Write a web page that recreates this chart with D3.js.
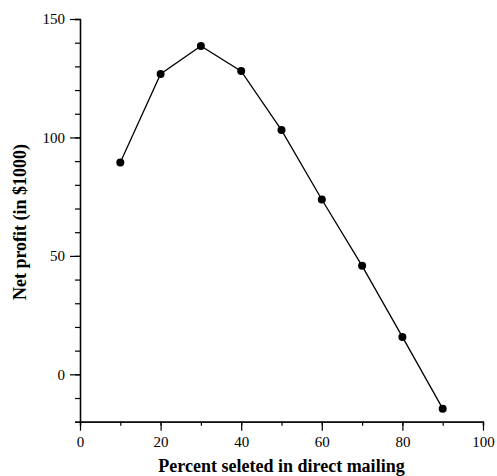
<!DOCTYPE html>
<html>
<head>
<meta charset="utf-8">
<script src="https://cdn.jsdelivr.net/npm/d3@7"></script>
<style>
  body { margin: 0; background: #fff; }
  text { font-family: "Liberation Serif", "Times New Roman", serif; }
</style>
</head>
<body>
<div id="chart"></div>
<script>
// percent selected and net profit
const percents = [10, 20, 30, 40, 50, 60, 70, 80, 90]
const profits = [89.4, 126.8, 138.6, 128, 103.1, 73.8, 45.8, 15.8, -14.5]
const xTicks = [0, 20, 40, 60, 80, 100]
const yTicks = [0, 50, 100, 150]

const w = 497
const h = 476
const m = { top: 19, right: 14, bottom: 54.3, left: 80 }

const svg = d3.select('#chart')
    .append('svg')
    .attr('width', w)
    .attr('height', h)

const x = d3.scaleLinear().domain([0, 100]).range([m.left, w - m.right])
const y = d3.scaleLinear().domain([-20, 150]).range([h - m.bottom, m.top])

// minor ticks first, no labels
svg.append('g')
    .attr('transform', `translate(0,${h - m.bottom})`)
    .call(d3.axisBottom(x).tickValues(d3.range(0, 101, 10)).tickSize(4).tickFormat(''))
svg.append('g')
    .attr('transform', `translate(${m.left},0)`)
    .call(d3.axisLeft(y).tickValues(d3.range(-20, 151, 10)).tickSize(5).tickFormat(''))

// major ticks with labels
svg.append('g')
    .attr('transform', `translate(0,${h - m.bottom})`)
    .call(d3.axisBottom(x).tickValues(xTicks).tickSize(9).tickSizeOuter(0).tickPadding(5.5))
svg.append('g')
    .attr('transform', `translate(${m.left},0)`)
    .call(d3.axisLeft(y).tickValues(yTicks).tickSize(10).tickSizeOuter(0).tickPadding(5))

svg.selectAll('g').attr('font-family', '"Liberation Serif", serif')
svg.selectAll('.domain').attr('stroke', '#000').attr('stroke-width', 1.3)
svg.selectAll('.tick line').attr('stroke', '#000').attr('stroke-width', 1.2)
svg.selectAll('.tick text')
    .attr('fill', '#000')
    .style('font-family', '"Liberation Serif", serif')
    .style('font-size', '15px')

// line + dots
const line = d3.line()
    .x((d, i) => x(percents[i]))
    .y((d) => y(d))

svg.append('path')
    .datum(profits)
    .attr('d', line)
    .attr('fill', 'none')
    .attr('stroke', '#000')
    .attr('stroke-width', 1.3)

svg.selectAll('circle')
    .data(profits)
    .enter()
    .append('circle')
    .attr('cx', (d, i) => x(percents[i]))
    .attr('cy', (d) => y(d))
    .attr('r', 4)
    .attr('fill', '#000')

// axis titles
svg.append('text')
    .attr('x', (m.left + w - m.right) / 2)
    .attr('y', 471.5)
    .attr('text-anchor', 'middle')
    .style('font-size', '18px')
    .style('font-weight', 'bold')
    .text('Percent seleted in direct mailing')

svg.append('text')
    .attr('transform', 'translate(26,222) rotate(-90)')
    .attr('text-anchor', 'middle')
    .style('font-size', '18px')
    .style('font-weight', 'bold')
    .text('Net profit (in $1000)')
</script>
</body>
</html>
